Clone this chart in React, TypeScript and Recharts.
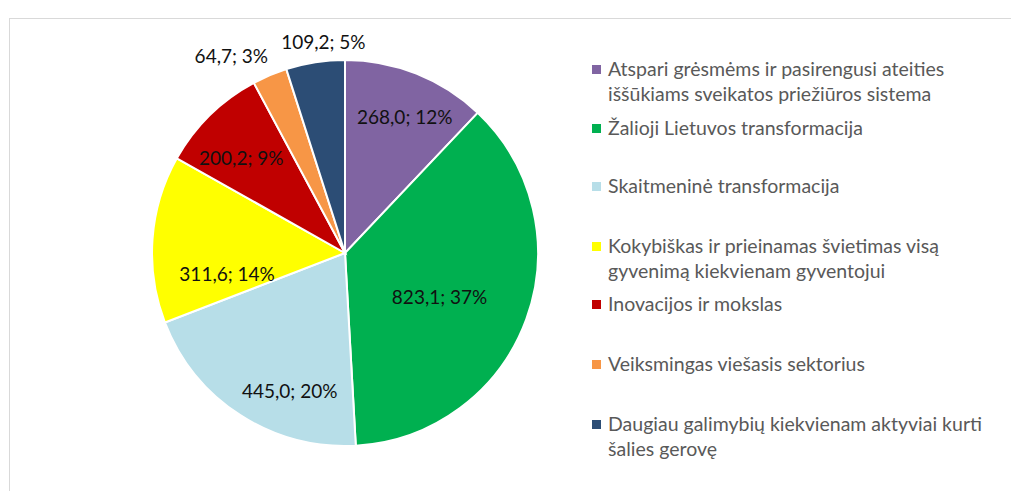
import React from 'react';
import { PieChart, Pie, Cell, Legend } from 'recharts';

// category names, split the way the legend wraps them
const categoryLines = [
  ['Atspari grėsmėms ir pasirengusi ateities', 'iššūkiams sveikatos priežiūros sistema'],
  ['Žalioji Lietuvos transformacija'],
  ['Skaitmeninė transformacija'],
  ['Kokybiškas ir prieinamas švietimas visą', 'gyvenimą kiekvienam gyventojui'],
  ['Inovacijos ir mokslas'],
  ['Veiksmingas viešasis sektorius'],
  ['Daugiau galimybių kiekvienam aktyviai kurti', 'šalies gerovę'],
];
const categories = categoryLines.map((l) => l.join(' '));
const amounts = [268.0, 823.1, 445.0, 311.6, 200.2, 64.7, 109.2];
const colors = ['#8064A2', '#00B050', '#B7DEE8', '#FFFF00', '#C00000', '#F79646', '#2C4D75'];

const data = categories.map((name, i) => ({ name, value: amounts[i] }));

// label placement per slice: [angle shift in degrees, radius factor]
const labelPlace: [number, number][] = [
  [2, 0.77],
  [4.7, 0.54],
  [-11, 0.77],
  [-14, 0.62],
  [-3, 0.73],
  [-7, 1.18],
  [3, 1.1],
];

// legend: centre of the first line of each entry
const legendTops = [68, 127, 185, 245, 303, 363, 423];

const RAD = Math.PI / 180;

const renderLabel = (props: any) => {
  const { cx, cy, midAngle, outerRadius, index, value, percent } = props;
  const [shift, f] = labelPlace[index];
  const a = (midAngle - shift) * RAD;
  const x = cx + outerRadius * f * Math.cos(a);
  const y = cy - outerRadius * f * Math.sin(a);
  const txt = `${value.toFixed(1).replace('.', ',')}; ${Math.round(percent * 100)}%`;
  return (
    <text x={x} y={y} textAnchor="middle" dominantBaseline="central" fill="#111" fontSize={19} fontFamily="Lato">
      {txt}
    </text>
  );
};

const renderLegend = () => (
  <div style={{ position: 'relative', width: 1011, height: 491 }}>
    {categories.map((name, i) => (
      <div
        key={name}
        style={{
          position: 'absolute',
          left: 592,
          top: legendTops[i] - 12.5,
          display: 'flex',
          alignItems: 'flex-start',
          fontFamily: 'Lato',
          fontSize: 19.5,
          lineHeight: '25px',
          color: '#595959',
          whiteSpace: 'nowrap',
        }}
      >
        <span
          style={{
            display: 'inline-block',
            width: 9,
            height: 9,
            marginTop: 9,
            marginRight: 7,
            background: colors[i],
            flex: 'none',
          }}
        />
        <span>
          {categoryLines[i].map((line) => (
            <div key={line}>{line}</div>
          ))}
        </span>
      </div>
    ))}
  </div>
);

export default function App() {
  return (
    <div style={{ position: 'absolute', left: 0, top: 0, width: 1011, height: 491, background: '#fff', overflow: 'hidden' }}>
      <div
        style={{
          position: 'absolute',
          left: 9,
          top: 18,
          width: 1100,
          height: 600,
          border: '1px solid #D9D9D9',
        }}
      />
      <PieChart
        width={1011}
        height={491}
        margin={{ top: 0, right: 0, bottom: 0, left: 0 }}
        style={{ position: 'absolute', left: 0, top: 0 }}
      >
        <Pie
          data={data}
          dataKey="value"
          nameKey="name"
          cx={345}
          cy={253}
          outerRadius={193}
          startAngle={90}
          endAngle={-270}
          stroke="#fff"
          strokeWidth={2}
          label={renderLabel}
          labelLine={false}
          isAnimationActive={false}
        >
          {data.map((d, i) => (
            <Cell key={d.name} fill={colors[i]} />
          ))}
        </Pie>
        <Legend content={renderLegend} wrapperStyle={{ left: 0, top: 0, width: 1011, height: 491 }} />
      </PieChart>
    </div>
  );
}
